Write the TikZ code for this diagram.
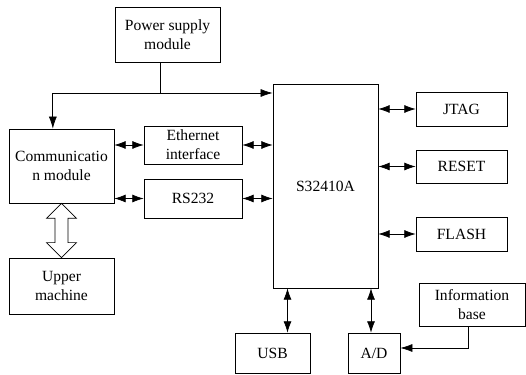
\documentclass[tikz,border=0pt]{standalone}
\usepackage{fontspec}
\setmainfont{Liberation Serif}
\usetikzlibrary{positioning, arrows.meta, calc}

\tikzset{
  blk/.style={draw, line width=0.6pt, align=center, inner sep=1pt,
    font=\fontsize{13.3}{16.5}\selectfont},
  dbl/.style={{Latex[length=3.4mm,width=2.4mm]}-{Latex[length=3.4mm,width=2.4mm]}, line width=0.6pt},
  arr/.style={-{Latex[length=3.6mm,width=2.4mm]}, line width=0.6pt}
}

\begin{document}
\begin{tikzpicture}[x=0.03cm, y=-0.03cm]
        \useasboundingbox (0,0) rectangle (526,375);

        % Blocks
        \node[blk, minimum width=3.15cm, minimum height=1.65cm] (power) at (167.5,34.5) {Power supply\\module};
        \node[blk, minimum width=3.15cm, minimum height=2.22cm] (comm) at (61.5,166) {Communicatio\\n module};
        \node[blk, minimum width=3.15cm, minimum height=1.68cm] (upper) at (61.5,286) {Upper\\machine};
        \node[blk, minimum width=2.94cm, minimum height=1.14cm] (eth) at (193,145) {Ethernet\\interface};
        \node[blk, minimum width=2.94cm, minimum height=1.17cm] (rs) at (193,198.5) {RS232};
        \node[blk, minimum width=3.15cm, minimum height=6.12cm] (cpu) at (325.5,186) {S32410A};
        \node[blk, minimum width=2.73cm, minimum height=1.02cm] (jtag) at (461.5,109) {JTAG};
        \node[blk, minimum width=2.73cm, minimum height=0.99cm] (reset) at (461.5,166.5) {RESET};
        \node[blk, minimum width=2.73cm, minimum height=1.02cm] (flash) at (461.5,234) {FLASH};
        \node[blk, minimum width=2.25cm, minimum height=1.2cm] (usb) at (272.5,353) {USB};
        \node[blk, minimum width=1.56cm, minimum height=1.2cm] (ad) at (374,353) {A/D};
        \node[blk, minimum width=3.18cm, minimum height=1.29cm] (info) at (472,304.5) {Information\\base};

        % Power distribution
        \coordinate (bus) at (160,93);
        \draw[line width=0.6pt] (bus |- power.south) -- (bus);
        \draw[arr] (bus) -| ([xshift=-0.26cm]comm.north);
        \draw[arr] (bus) -- (bus -| cpu.west);

        % Communication links
        \draw[dbl] (comm.east |- eth.west) -- (eth.west);
        \draw[dbl] (comm.east |- rs.west) -- (rs.west);
        \draw[dbl] (eth.east) -- (eth.east -| cpu.west);
        \draw[dbl] (rs.east) -- (rs.east -| cpu.west);

        % Peripherals
        \draw[dbl] (cpu.east |- jtag.west) -- (jtag.west);
        \draw[dbl] (cpu.east |- reset.west) -- (reset.west);
        \draw[dbl] (cpu.east |- flash.west) -- (flash.west);
        \draw[dbl] (cpu.south -| usb.north) ++(0.45cm,0) coordinate (usbtop) -- (usbtop |- usb.north);
        \draw[dbl] (cpu.south -| ad.north) ++(-0.09cm,0) coordinate (adtop) -- (adtop |- ad.north);
        \draw[arr] ([xshift=-0.12cm]info.south) |- ([yshift=0.15cm]ad.east);

        % Hollow link to the upper machine
        \path (comm.south) coordinate (ha) (upper.north) coordinate (hb);
        \draw[line width=0.6pt, fill=white]
          (ha) -- ++(0.45cm,-0.45cm) -- ++(-0.255cm,0) -- ($(hb)+(0.195cm,0.45cm)$)
          -- ++(0.255cm,0) -- (hb) -- ++(-0.45cm,0.45cm) -- ++(0.255cm,0)
          -- ($(ha)+(-0.195cm,-0.45cm)$) -- ++(-0.255cm,0) -- cycle;
    \end{tikzpicture}
\end{document}
